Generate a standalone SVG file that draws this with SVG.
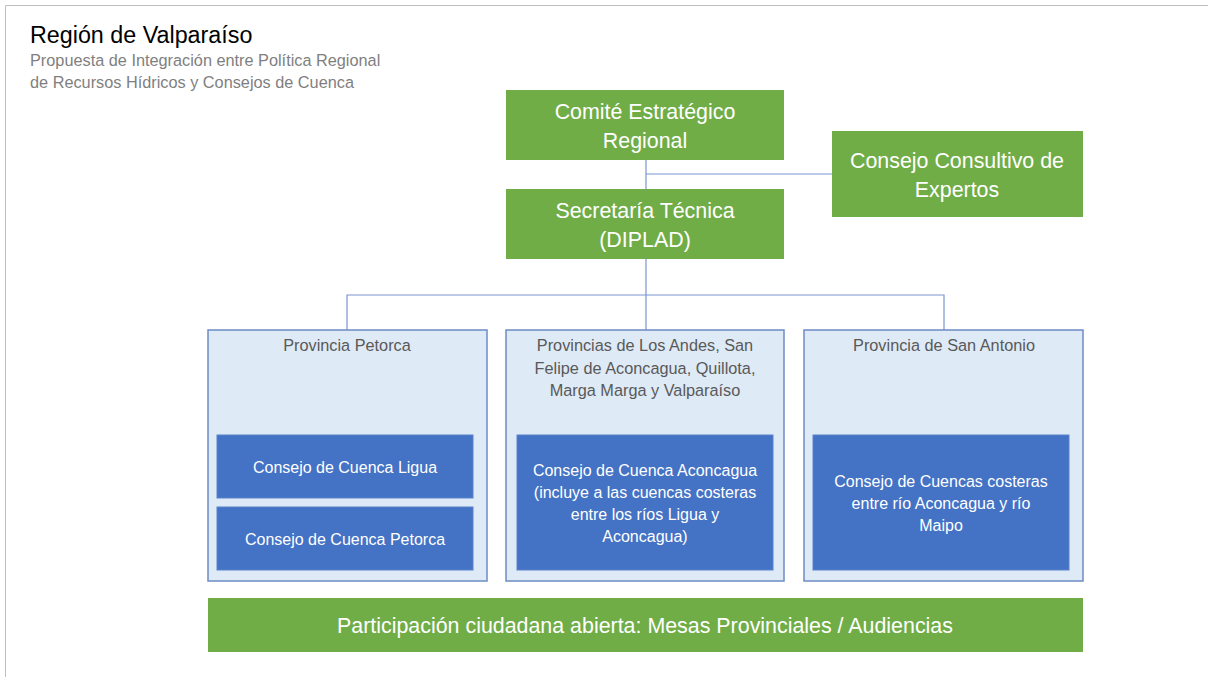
<svg xmlns="http://www.w3.org/2000/svg" width="1208" height="677" viewBox="0 0 1208 677">
<style>
text{font-family:"Liberation Sans","Open Sans",sans-serif}
.g{fill:#70AD47}
.prov{fill:#DEEAF6;stroke:#6D8CC4;stroke-width:1.5}
.inner{fill:#4472C4;stroke:#5B82CC;stroke-width:1}
.wt{fill:#FFFFFF;text-anchor:middle}
.big{font-size:21.4px}
.sm{font-size:16px}
.pt{fill:#595959;font-size:16.3px;text-anchor:middle}
.conn{stroke:#7A96D0;stroke-width:1.2;fill:none}
</style>
<rect x="0" y="0" width="1208" height="677" fill="#FFFFFF"/>
<path d="M5.5 677 V5.5 H1208" fill="none" stroke="#BFBFBF" stroke-width="1"/>
<g id="title">
<text x="30" y="43" font-size="23.3" fill="#000000">Región de Valparaíso</text>
<text x="30" y="66" font-size="16.3" fill="#7F7F7F">Propuesta de Integración entre Política Regional</text>
<text x="30" y="88" font-size="16.3" fill="#7F7F7F">de Recursos Hídricos y Consejos de Cuenca</text>
</g>
<g id="connectors">
<path class="conn" d="M646 160 V189 M646 174 H832 M646 259 V330 M347 330 V295 H944 V330"/>
</g>
<g id="comite">
<rect class="g" x="506" y="90" width="278" height="70"/>
<text class="wt big" x="645" y="119">Comité Estratégico</text>
<text class="wt big" x="645" y="148">Regional</text>
</g>
<g id="consultivo">
<rect class="g" x="832" y="131" width="251" height="86"/>
<text class="wt big" x="957" y="168">Consejo Consultivo de</text>
<text class="wt big" x="957" y="197">Expertos</text>
</g>
<g id="secretaria">
<rect class="g" x="506" y="189" width="278" height="70"/>
<text class="wt big" x="645" y="218">Secretaría Técnica</text>
<text class="wt big" x="645" y="247">(DIPLAD)</text>
</g>
<g id="prov-petorca">
<rect class="prov" x="208" y="330" width="279" height="251"/>
<text class="pt" x="347" y="351">Provincia Petorca</text>
</g>
<g id="prov-centro">
<rect class="prov" x="506" y="330" width="278" height="251"/>
<text class="pt" x="645" y="351">Provincias de Los Andes, San</text>
<text class="pt" x="645" y="374">Felipe de Aconcagua, Quillota,</text>
<text class="pt" x="645" y="396">Marga Marga y Valparaíso</text>
</g>
<g id="prov-sanantonio">
<rect class="prov" x="804" y="330" width="279" height="251"/>
<text class="pt" x="944" y="351">Provincia de San Antonio</text>
</g>
<g id="cuenca-ligua">
<rect class="inner" x="217" y="435" width="256" height="63"/>
<text class="wt sm" x="345" y="473">Consejo de Cuenca Ligua</text>
</g>
<g id="cuenca-petorca">
<rect class="inner" x="217" y="507" width="256" height="63"/>
<text class="wt sm" x="345" y="545">Consejo de Cuenca Petorca</text>
</g>
<g id="cuenca-aconcagua">
<rect class="inner" x="517" y="435" width="256" height="135"/>
<text class="wt sm" x="645" y="476">Consejo de Cuenca Aconcagua</text>
<text class="wt sm" x="645" y="498">(incluye a las cuencas costeras</text>
<text class="wt sm" x="645" y="520">entre los ríos Ligua y</text>
<text class="wt sm" x="645" y="542">Aconcagua)</text>
</g>
<g id="cuenca-costeras">
<rect class="inner" x="813" y="435" width="256" height="135"/>
<text class="wt sm" x="941" y="487">Consejo de Cuencas costeras</text>
<text class="wt sm" x="941" y="509">entre río Aconcagua y río</text>
<text class="wt sm" x="941" y="531">Maipo</text>
</g>
<g id="participacion">
<rect class="g" x="208" y="598" width="875" height="54"/>
<text class="wt big" x="645" y="633">Participación ciudadana abierta: Mesas Provinciales / Audiencias</text>
</g>
</svg>
